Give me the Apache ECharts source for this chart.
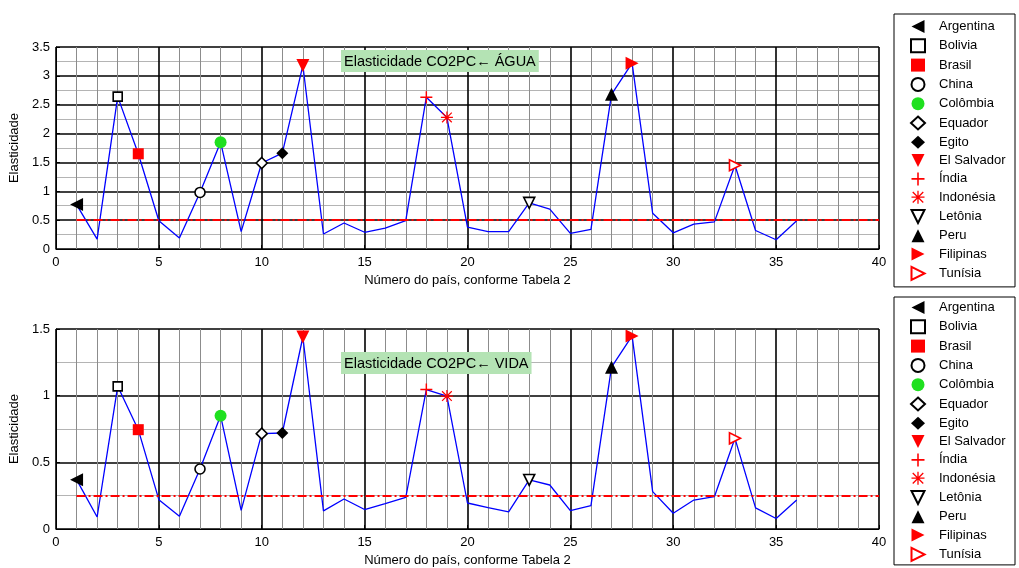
<!DOCTYPE html>
<html>
<head>
<meta charset="utf-8">
<script src="https://cdn.jsdelivr.net/npm/echarts@6/dist/echarts.min.js"></script>
<style>
html, body { margin: 0; padding: 0; background: #fff; }
#chart { width: 1019px; height: 568px; }
</style>
</head>
<body>
<div id="chart"></div>
<script>
// dados
var countryNums = [1, 2, 3, 4, 5, 6, 7, 8, 9, 10, 11, 12, 13, 14, 15, 16, 17, 18,
    19, 20, 21, 22, 23, 24, 25, 26, 27, 28, 29, 30, 31, 32, 33, 34, 35, 36];
var aguaValues = [0.77, 0.17, 2.64, 1.65, 0.49, 0.19, 0.98, 1.85, 0.30, 1.49, 1.66, 3.18,
    0.26, 0.45, 0.29, 0.36, 0.49, 2.63, 2.28, 0.38, 0.30, 0.30, 0.80, 0.69,
    0.27, 0.34, 2.68, 3.22, 0.62, 0.28, 0.43, 0.47, 1.45, 0.32, 0.16, 0.49];
var vidaValues = [0.37, 0.09, 1.07, 0.745, 0.22, 0.096, 0.45, 0.85, 0.14, 0.715, 0.72, 1.44,
    0.136, 0.225, 0.146, 0.19, 0.237, 1.046, 0.997, 0.195, 0.16, 0.128, 0.368, 0.33,
    0.138, 0.175, 1.214, 1.448, 0.28, 0.118, 0.217, 0.242, 0.68, 0.158, 0.079, 0.217];
var countries = ["Argentina", "Bolivia", "Brasil", "China", "Colômbia", "Equador", "Egito",
    "El Salvador", "Índia", "Indonésia", "Letônia", "Peru", "Filipinas", "Tunísia"];
var countryIdx = [1, 3, 4, 7, 8, 10, 11, 12, 18, 19, 23, 27, 28, 33];
var thresholds = [0.5, 0.25];
var yMax = [3.5, 1.5];
var titles = ["Elasticidade CO2PC\u2190 ÁGUA", "Elasticidade CO2PC\u2190 VIDA"];

// estilos dos marcadores (um por país)
var PLUS = "path://M4.4,0h1.2v4.4h4.4v1.2h-4.4v4.4h-1.2v-4.4h-4.4v-1.2h4.4z";
var STAR = "path://M4.5,0h1v10h-1z M0,4.5h10v1h-10z M0.6,1.3L1.3,0.6L9.4,8.7L8.7,9.4z M8.7,0.6L9.4,1.3L1.3,9.4L0.6,8.7z";
var TRI_L = "path://M0,5L10,0L10,10Z";
var TRI_R = "path://M10,5L0,0L0,10Z";
var TRI_D = "path://M0,0L10,0L5,10Z";
var TRI_U = "path://M5,0L10,10L0,10Z";
var markerStyles = [
    { symbol: TRI_L, size: 13, fill: "#000", stroke: "#000" },
    { symbol: "rect", size: 9, fill: "#fff", stroke: "#000" },
    { symbol: "rect", size: 11, fill: "#ff0000", stroke: "#ff0000" },
    { symbol: "circle", size: 10, fill: "#fff", stroke: "#000" },
    { symbol: "circle", size: 12, fill: "#1fe01f", stroke: "#1fe01f" },
    { symbol: "diamond", size: 11, fill: "#fff", stroke: "#000" },
    { symbol: "diamond", size: 12, fill: "#000", stroke: "#000" },
    { symbol: TRI_D, size: 13, fill: "#ff0000", stroke: "#ff0000" },
    { symbol: PLUS, size: 12, fill: "#ff0000", stroke: "#ff0000" },
    { symbol: STAR, size: 12, fill: "#ff0000", stroke: "#ff0000" },
    { symbol: TRI_D, size: 11, fill: "#fff", stroke: "#000" },
    { symbol: TRI_U, size: 13, fill: "#000", stroke: "#000" },
    { symbol: TRI_R, size: 13, fill: "#ff0000", stroke: "#ff0000" },
    { symbol: TRI_R, size: 11, fill: "#fff", stroke: "#ff0000" }
];

var FONT = "'Liberation Sans', Arial, sans-serif";
var myChart = echarts.init(document.getElementById("chart"), null, { renderer: "canvas" });

var grids = [
    { left: 54, right: 140, top: 47, height: 202, show: false },
    { left: 54, right: 140, top: 329, height: 202, show: false }
];

function xAxisFor(i) {
    return {
        gridIndex: i, type: "value", min: 0, max: 40, interval: 5,
        name: "Número do país, conforme Tabela 2", nameLocation: "middle", nameGap: 25,
        nameTextStyle: { fontFamily: FONT, fontSize: 13, color: "#000" },
        axisLine: { show: true, onZero: false, lineStyle: { color: "#000", width: 1 } },
        axisTick: { show: true, inside: true, length: 4, lineStyle: { color: "#000" } },
        axisLabel: { fontFamily: FONT, fontSize: 13, color: "#000", margin: 7 },
        splitLine: { show: true, lineStyle: { color: "#000", width: 1.6 } },
        minorTick: { show: false, splitNumber: 5 },
        minorSplitLine: { show: true, lineStyle: { color: "#8c8c8c", width: 1 } }
    };
}
function yAxisFor(i) {
    return {
        gridIndex: i, type: "value", min: 0, max: yMax[i], interval: 0.5,
        name: "Elasticidade", nameLocation: "middle", nameGap: 30,
        nameTextStyle: { fontFamily: FONT, fontSize: 13, color: "#000" },
        axisLine: { show: true, lineStyle: { color: "#000", width: 1 } },
        axisTick: { show: true, inside: true, length: 4, lineStyle: { color: "#000" } },
        axisLabel: { fontFamily: FONT, fontSize: 13, color: "#000", margin: 6 },
        splitLine: { show: true, lineStyle: { color: "#000", width: 1.6 } },
        minorTick: { show: false, splitNumber: 2 },
        minorSplitLine: { show: true, lineStyle: { color: "#b4b4b4", width: 1 } }
    };
}

var series = [];
[aguaValues, vidaValues].forEach(function (vals, g) {
    series.push({
        name: g === 0 ? "ÁGUA" : "VIDA",
        type: "line", xAxisIndex: g, yAxisIndex: g,
        data: countryNums.map(function (n, k) { return [n, vals[k]]; }),
        showSymbol: false, silent: true, z: 2,
        lineStyle: { color: "#0000ff", width: 1.3 },
        markLine: {
            silent: true, symbol: "none", label: { show: false },
            lineStyle: { color: "#ff0000", width: 2, type: [9, 3, 2, 3] },
            data: [[{ coord: [1, thresholds[g]] }, { coord: [40, thresholds[g]] }]]
        }
    });
    countries.forEach(function (c, k) {
        var st = markerStyles[k];
        series.push({
            name: c, type: "scatter", xAxisIndex: g, yAxisIndex: g, z: 5,
            symbol: st.symbol, symbolSize: st.size,
            itemStyle: { color: st.fill, borderColor: st.stroke, borderWidth: st.fill === "#fff" ? 1.6 : 0, opacity: 1 },
            data: [[countryIdx[k], vals[countryIdx[k] - 1]]]
        });
    });
});

function legendFor(top, pad) {
    return {
        data: countries, orient: "vertical", left: 894, top: top,
        backgroundColor: "#fff", borderColor: "#000", borderWidth: 1,
        padding: pad, itemGap: 5.3, itemWidth: 14, itemHeight: 13,
        selectedMode: false,
        textStyle: { fontFamily: FONT, fontSize: 13, lineHeight: 13, color: "#000", padding: [0, 0, 0, 9], width: 72 }
    };
}

// configuração
var option = {
    backgroundColor: "#fff",
    animation: false,
    title: [
        { text: titles[0], left: 341, top: 50, backgroundColor: "#b4e3b4", padding: [4, 3, 3, 3],
          textStyle: { fontFamily: FONT, fontSize: 14.5, fontWeight: "normal", color: "#000" } },
        { text: titles[1], left: 341, top: 352, backgroundColor: "#b4e3b4", padding: [4, 3, 3, 3],
          textStyle: { fontFamily: FONT, fontSize: 14.5, fontWeight: "normal", color: "#000" } }
    ],
    legend: [legendFor(14, [6, 4, 6, 16]), legendFor(297, [4, 4, 3, 16])],
    grid: grids,
    xAxis: [xAxisFor(0), xAxisFor(1)],
    yAxis: [yAxisFor(0), yAxisFor(1)],
    series: series
};
myChart.setOption(option);
</script>
</body>
</html>
